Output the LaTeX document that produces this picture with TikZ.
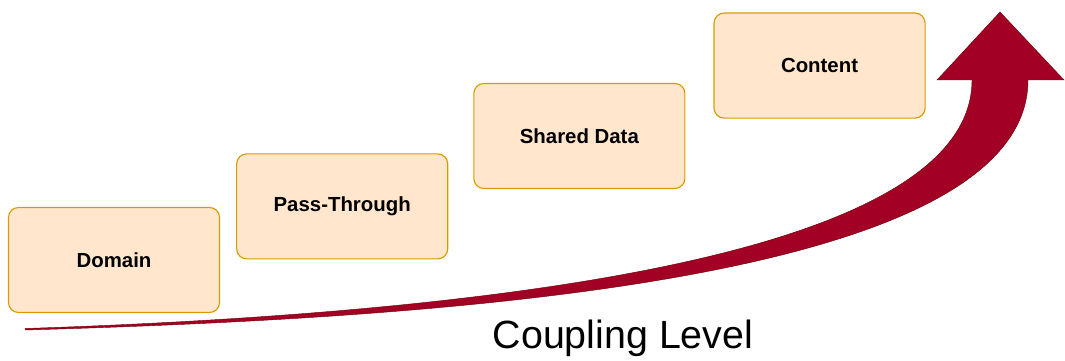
\documentclass[tikz,border=0pt]{standalone}
\usepackage{fontspec}
\setmainfont{Liberation Sans}
\usepackage{xcolor}
\usetikzlibrary{positioning}

\definecolor{boxfill}{HTML}{FFE6CC}
\definecolor{boxline}{HTML}{D79B00}
\definecolor{arrowfill}{HTML}{A20025}
\definecolor{arrowline}{HTML}{6F0000}

\tikzset{
    level/.style={draw=boxline, fill=boxfill, line width=0.8pt, rounded corners=0.25cm,
        minimum width=5.275cm, minimum height=2.625cm,
        font=\fontsize{14.5}{17}\selectfont\bfseries}
}

\begin{document}
\begin{tikzpicture}[x=0.025cm, y=-0.025cm]
        \useasboundingbox (0,0) rectangle (1065,361);

        % Rising arrow
        \fill [arrowfill, draw=arrowline, line width=0.3pt]
            (25,330) .. controls (450,318) and (1028,280) .. (1028,80)
            -- (1064,80) -- (1000,12) -- (937,80) -- (972,80)
            .. controls (972,250) and (525,312) .. (25,328.5) -- cycle;

        % Domain
        \node [level] (domain) at (114,260) {Domain};

        % Pass-Through
        \node [level, right=0.4cm of domain, yshift=1.34cm] (pass) {Pass-Through};

        % Shared Data
        \node [level, right=0.625cm of pass, yshift=1.76cm] (shared) {Shared Data};

        % Content
        \node [level, right=0.7cm of shared, yshift=1.76cm] (content) {Content};

        % Axis label
        \node [font=\fontsize{28}{32}\selectfont] (coupling) at (623,338) {Coupling Level};
    \end{tikzpicture}
\end{document}
